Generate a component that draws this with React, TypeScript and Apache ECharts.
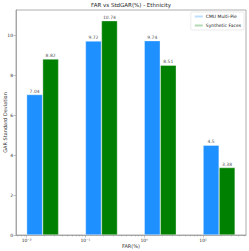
import React, { useEffect, useRef } from "react";
import * as echarts from "echarts";

const farExponents = [-2, -1, 0, 1];
const farTickLabels = ["10⁻²", "10⁻¹", "10⁰", "10¹"];
const cmuMultiPie = [7.04, 9.72, 9.74, 4.5];
const syntheticFaces = [8.82, 10.74, 8.51, 3.38];
const yTicks = [0, 2, 4, 6, 8, 10];
const seriesNames = ["CMU Multi-Pie", "Synthetic Faces"];

const X_MIN = -2.18;
const X_MAX = 1.73;
const HALF_GROUP = 0.2726; // half of bar group width in decades
const Y_MAX = 11.277;

export default function App() {
  const ref = useRef<HTMLDivElement>(null);
  useEffect(() => {
    if (!ref.current) return;
    const chart = echarts.init(ref.current, null, { renderer: "svg" });
    const minor: number[] = [];
    for (let n = -3; n <= 1; n++) {
      for (let k = 2; k <= 9; k++) {
        const v = n + Math.log10(k);
        if (v > X_MIN && v < X_MAX) minor.push(v);
      }
    }
    const font = "DejaVu Sans";
    const labelFmt = (v: number) => {
      const i = farExponents.indexOf(Math.round(v));
      return i >= 0 ? farTickLabels[i] : "";
    };
    chart.setOption({
      animation: false,
      textStyle: { fontFamily: font },
      title: {
        text: "FAR vs StdGAR(%) - Ethnicity",
        left: 131,
        top: 2,
        padding: 0,
        textAlign: "center",
        textStyle: { fontSize: 5.5, fontWeight: "normal", color: "#222", fontFamily: font },
      },
      legend: {
        orient: "vertical",
        right: 5,
        top: 12,
        icon: "rect",
        itemWidth: 8,
        itemHeight: 2,
        itemGap: 4,
        padding: [2, 3, 2, 3],
        borderColor: "#ddd",
        borderWidth: 0.6,
        borderRadius: 1,
        backgroundColor: "#fff",
        textStyle: { fontSize: 4.5, color: "#222", fontFamily: font, padding: [0, 0, 0, -2] },
        data: seriesNames,
      },
      grid: {
        left: 16,
        right: 3,
        top: 10,
        bottom: 16,
        containLabel: false,
        outerBoundsMode: "none",
        show: true,
        borderColor: "#999",
        borderWidth: 0.8,
        backgroundColor: "transparent",
      },
      xAxis: [
        {
          type: "value",
          min: X_MIN,
          max: X_MAX,
          name: "FAR(%)",
          nameLocation: "middle",
          nameGap: 8,
          nameMoveOverlap: false,
          nameTextStyle: { fontSize: 5, color: "#333", fontFamily: font },
          axisLine: { show: true, onZero: false, lineStyle: { color: "#999", width: 0.8 } },
          axisTick: { show: true, customValues: farExponents, length: 2.5, lineStyle: { color: "#999", width: 0.6 } },
          axisLabel: {
            customValues: farExponents,
            formatter: labelFmt,
            fontSize: 4.5,
            color: "#333",
            margin: 3,
            fontFamily: font,
          },
          splitLine: { show: false },
        },
        {
          type: "value",
          min: X_MIN - HALF_GROUP,
          max: X_MAX - HALF_GROUP,
          show: false,
          axisLine: { show: false, onZero: false },
          splitLine: { show: false },
        },
        {
          type: "value",
          min: X_MIN,
          max: X_MAX,
          position: "bottom",
          axisLine: { show: false, onZero: false },
          axisTick: { show: true, customValues: minor, length: 1.5, lineStyle: { color: "#999", width: 0.5 } },
          axisLabel: { show: false },
          splitLine: { show: false },
        },
      ],
      yAxis: {
        type: "value",
        min: 0,
        max: Y_MAX,
        name: "GAR Standard Deviation",
        nameLocation: "middle",
        nameGap: 9,
        nameMoveOverlap: false,
        nameTextStyle: { fontSize: 5, color: "#333", fontFamily: font },
        axisLine: { show: true, onZero: false, lineStyle: { color: "#999", width: 0.8 } },
        axisTick: { show: true, customValues: yTicks, length: 2.5, lineStyle: { color: "#999", width: 0.6 } },
        axisLabel: { customValues: yTicks, fontSize: 4.5, color: "#333", margin: 3, fontFamily: font },
        splitLine: { show: false },
      },
      series: [
        {
          name: seriesNames[0],
          type: "bar",
          xAxisIndex: 1,
          barWidth: 16,
          barGap: "0%",
          data: farExponents.map((e, i) => [e, cmuMultiPie[i]]),
          itemStyle: { color: "#1E90FF", borderColor: "rgba(255,255,255,0.7)", borderWidth: 0.5 },
          label: { show: true, position: "top", distance: 1, fontSize: 4.5, color: "#555", fontFamily: font },
        },
        {
          name: seriesNames[1],
          type: "bar",
          xAxisIndex: 1,
          barWidth: 16,
          barGap: "0%",
          data: farExponents.map((e, i) => [e, syntheticFaces[i]]),
          itemStyle: { color: "#008000", borderColor: "rgba(255,255,255,0.7)", borderWidth: 0.5 },
          label: { show: true, position: "top", distance: 1, fontSize: 4.5, color: "#555", fontFamily: font },
        },
      ],
    });
    return () => chart.dispose();
  }, []);
  return <div ref={ref} style={{ position: "fixed", left: 0, top: 0, width: 249, height: 251, background: "#fff" }} />;
}
